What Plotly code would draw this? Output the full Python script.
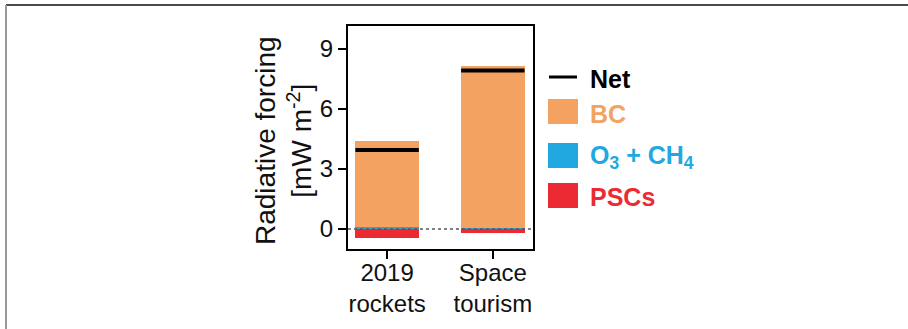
import plotly.graph_objects as go

# Radiative forcing components per scenario (mW m^-2)
categories = ["2019<br>rockets", "Space<br>tourism"]
o3_ch4 = [0.08, 0.06]
bc = [4.32, 8.09]
pscs = [-0.45, -0.22]
net = [3.95, 7.93]

legend_labels = ["Net", "BC", "O<sub>3</sub> + CH<sub>4</sub>", "PSCs"]
y_ticks = [0, 3, 6, 9]

C_BC = "#F4A262"
C_O3 = "#22A8E0"
C_PSC = "#EC2A33"
FONT = "Arial, Liberation Sans, sans-serif"

W, H = 908, 329
L, R, T, B = 348, 533, 26, 249  # plot area in pixels
BAR_W = 0.6


def px(x):
    return (x - L) / (R - L)


def py(y):
    return (B - y) / (B - T)


xs = list(range(len(categories)))

fig = go.Figure()
fig.add_trace(go.Bar(x=xs, y=o3_ch4, marker=dict(color=C_O3, line=dict(width=0)),
                     width=BAR_W, showlegend=False))
fig.add_trace(go.Bar(x=xs, y=bc, marker=dict(color=C_BC, line=dict(width=0)),
                     width=BAR_W, showlegend=False))
fig.add_trace(go.Bar(x=xs, y=pscs, marker=dict(color=C_PSC, line=dict(width=0)),
                     width=BAR_W, showlegend=False))

# Net forcing: a horizontal bar-wide segment per scenario
nx, ny = [], []
for i, v in zip(xs, net):
    nx += [i - BAR_W / 2, i + BAR_W / 2, None]
    ny += [v, v, None]
fig.add_trace(go.Scatter(x=nx, y=ny, mode="lines", line=dict(color="black", width=4),
                         showlegend=False, hoverinfo="skip"))

shapes = [
    # zero reference line
    dict(type="line", xref="paper", yref="y", x0=0, x1=1, y0=0, y1=0,
         line=dict(color="#555555", width=1.5, dash="3px,3px"), layer="above"),
    # outer panel frame (top and left edges)
    dict(type="line", xref="paper", yref="paper", x0=px(6), x1=px(908), y0=py(5), y1=py(5),
         line=dict(color="#4a4a4a", width=2)),
    dict(type="line", xref="paper", yref="paper", x0=px(6), x1=px(6), y0=py(5), y1=py(329),
         line=dict(color="#9a9a9a", width=2)),
    # legend key: Net line
    dict(type="line", xref="paper", yref="paper", x0=px(549), x1=px(577), y0=py(77), y1=py(77),
         line=dict(color="black", width=3)),
]
for y0, col in [(99, C_BC), (143, C_O3), (183, C_PSC)]:
    shapes.append(dict(type="rect", xref="paper", yref="paper",
                       x0=px(548), x1=px(578), y0=py(y0), y1=py(y0 + 25),
                       fillcolor=col, line=dict(width=0)))

annotations = [
    dict(text="Radiative forcing<br>[mW m<sup>-2</sup>]", textangle=-90,
         xref="paper", yref="paper", x=px(283), y=py(141), xanchor="center", yanchor="middle",
         showarrow=False, font=dict(family=FONT, size=28, color="#111111")),
]
for lab, yc, col in zip(legend_labels, [79, 114, 157, 197], ["black", C_BC, C_O3, C_PSC]):
    annotations.append(dict(text=f"<b>{lab}</b>", xref="paper", yref="paper",
                            x=px(588), y=py(yc), xanchor="left", yanchor="middle",
                            showarrow=False, font=dict(family=FONT, size=25, color=col)))

fig.update_layout(
    template="none",
    width=W, height=H,
    margin=dict(l=L, r=W - R, t=T, b=H - B, pad=0),
    paper_bgcolor="white", plot_bgcolor="white",
    barmode="relative", bargap=0,
    font=dict(family=FONT, size=24, color="#111111"),
    shapes=shapes, annotations=annotations,
)
fig.update_xaxes(range=[-0.37, 1.38], tickvals=xs, ticktext=categories, automargin=False,
                 showline=True, linecolor="black", linewidth=2, mirror=True,
                 ticks="outside", ticklen=8, tickwidth=2, tickcolor="black",
                 ticklabelstandoff=-7,
                 showgrid=False, zeroline=False, tickfont=dict(size=24))
fig.update_yaxes(range=[-1, 10.15], tickvals=y_ticks, automargin=False,
                 showline=True, linecolor="black", linewidth=2, mirror=True,
                 ticks="outside", ticklen=8, tickwidth=2, tickcolor="black",
                 showgrid=False, zeroline=False, tickfont=dict(size=24))

fig.write_html("out.html")
